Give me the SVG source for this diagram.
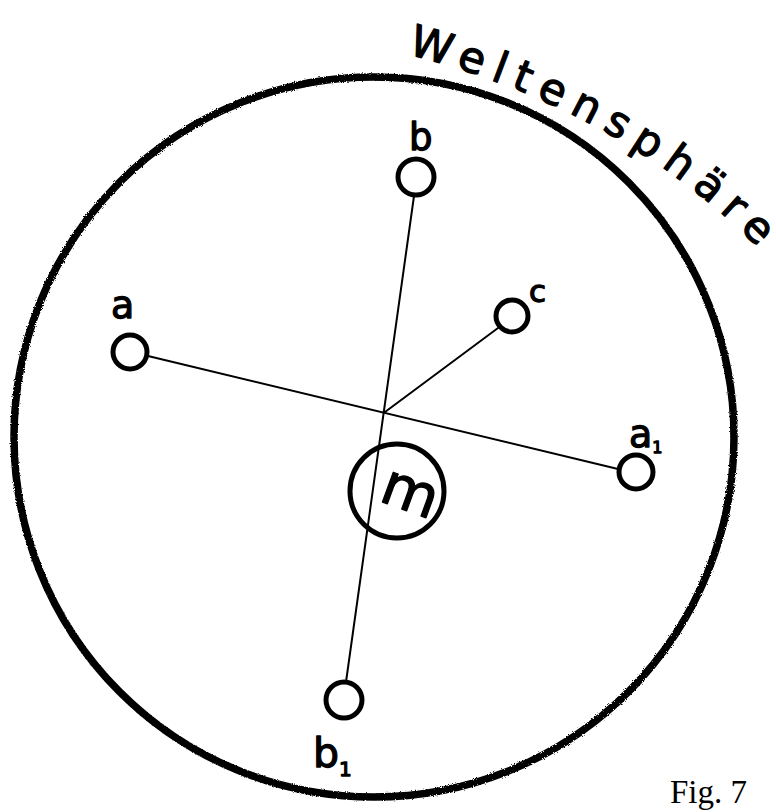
<svg xmlns="http://www.w3.org/2000/svg" width="776" height="812" viewBox="0 0 776 812">
<style>
.ink{fill:none;stroke:#000;stroke-linecap:round;stroke-linejoin:round}
.ring{stroke-width:7.5}
.node{stroke-width:5}
.conn{stroke-width:2}
.hand{font-family:"DejaVu Sans","Noto Sans",sans-serif;fill:#000;stroke:#000;stroke-width:1.3;stroke-linejoin:round}
.cap{font-family:"Liberation Serif","Times New Roman",serif;fill:#000}
</style>
<defs>
<path id="arcLabel" d="M 407 54 Q 632 112 772 262"/>
<filter id="rough" x="-5%" y="-5%" width="110%" height="110%">
<feTurbulence type="fractalNoise" baseFrequency="0.9" numOctaves="2" seed="3" result="n"/>
<feDisplacementMap in="SourceGraphic" in2="n" scale="3"/>
</filter>
</defs>
<rect width="776" height="812" fill="#fff"/>
<g id="sphere">
<circle class="ink ring" cx="374" cy="437" r="360" filter="url(#rough)"/>
<text class="hand" font-size="43" letter-spacing="10"><textPath href="#arcLabel">Weltensphäre</textPath></text>
</g>
<g id="connectors">
<line class="ink conn" x1="414" y1="196" x2="346" y2="682"/>
<line class="ink conn" x1="148" y1="356" x2="618" y2="469"/>
<line class="ink conn" x1="498" y1="328" x2="385" y2="412"/>
</g>
<g id="node-a">
<circle class="ink node" cx="130" cy="352" r="17"/>
<text class="hand" x="111" y="318" font-size="38">a</text>
</g>
<g id="node-b">
<circle class="ink node" cx="416" cy="177" r="18"/>
<text class="hand" x="409" y="150" font-size="37">b</text>
</g>
<g id="node-c">
<circle class="ink node" cx="512" cy="316" r="16"/>
<text class="hand" x="529" y="302" font-size="31">c</text>
</g>
<g id="node-a1">
<circle class="ink node" cx="636" cy="472" r="17"/>
<text class="hand" x="629" y="447" font-size="38">a<tspan font-size="16" dy="6">1</tspan></text>
</g>
<g id="node-b1">
<circle class="ink node" cx="344" cy="700" r="18"/>
<text class="hand" x="313" y="767" font-size="41">b<tspan font-size="20" dy="9">1</tspan></text>
</g>
<g id="node-m">
<circle class="ink node" cx="397" cy="491" r="47"/>
<text class="hand" font-size="58" text-anchor="middle" transform="translate(404 510) rotate(20)">m</text>
</g>
<text class="cap" x="670" y="803" font-size="33">Fig. 7</text>
</svg>
